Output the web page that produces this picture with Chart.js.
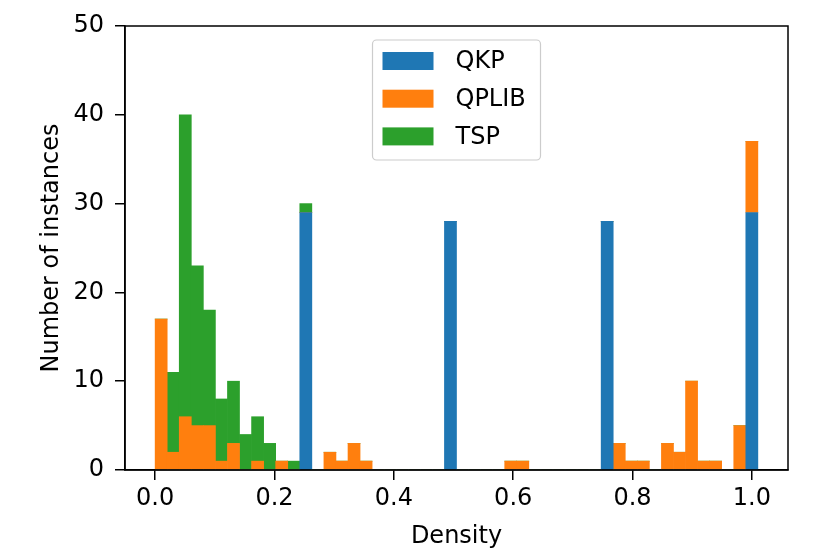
<!DOCTYPE html>
<html>
<head>
<meta charset="utf-8">
<script src="https://cdn.jsdelivr.net/npm/chart.js@4/dist/chart.umd.min.js"></script>
<style>
  html, body { margin: 0; padding: 0; background: #ffffff; }
  #wrap { width: 830px; height: 554px; }
</style>
</head>
<body>
<div id="wrap"><canvas id="densityChart"></canvas></div>
<script>
// histogram bins: 50 bins of equal width starting at 0
const binWidth = 0.0202;
const binCount = 50;

const seriesLabels = ["QKP", "QPLIB", "TSP"];
const seriesColors = ["#1f77b4", "#ff7f0e", "#2ca02c"];

const qkpCounts = [
  0, 0, 0, 0, 0, 0, 0, 0, 0, 0,
  0, 0, 29, 0, 0, 0, 0, 0, 0, 0,
  0, 0, 0, 0, 28, 0, 0, 0, 0, 0,
  0, 0, 0, 0, 0, 0, 0, 28, 0, 0,
  0, 0, 0, 0, 0, 0, 0, 0, 0, 29
];
const qplibCounts = [
  17, 2, 6, 5, 5, 1, 3, 0, 1, 0,
  1, 0, 0, 0, 2, 1, 3, 1, 0, 0,
  0, 0, 0, 0, 0, 0, 0, 0, 0, 1,
  1, 0, 0, 0, 0, 0, 0, 0, 3, 1,
  1, 0, 3, 2, 10, 1, 1, 0, 5, 8
];
const tspCounts = [
  0, 9, 34, 18, 13, 7, 7, 4, 5, 3,
  0, 1, 1, 0, 0, 0, 0, 0, 0, 0,
  0, 0, 0, 0, 0, 0, 0, 0, 0, 0,
  0, 0, 0, 0, 0, 0, 0, 0, 0, 0,
  0, 0, 0, 0, 0, 0, 0, 0, 0, 0
];

const xTickValues = [0.0, 0.2, 0.4, 0.6, 0.8, 1.0];
const yTickStep = 10;
const yMax = 50;

const binCenters = Array.from({ length: binCount }, (_, i) => (i + 0.5) * binWidth);
const dataRange = binCount * binWidth;

Chart.defaults.font.family = "'DejaVu Sans', sans-serif";
Chart.defaults.font.size = 24;
Chart.defaults.color = "#000000";

function toPoints(counts) {
  return counts.map((v, i) => ({ x: binCenters[i], y: v }));
}

// matplotlib style box around the axes
const frameBox = {
  id: "frameBox",
  afterDatasetsDraw(chart) {
    const { ctx, chartArea: a } = chart;
    ctx.save();
    ctx.strokeStyle = "#000000";
    ctx.lineWidth = 1.5;
    ctx.strokeRect(a.left, a.top, a.right - a.left, a.bottom - a.top);
    ctx.restore();
  }
};

// legend inside the plot, top centre
const insideLegend = {
  id: "insideLegend",
  afterDraw(chart) {
    const { ctx, chartArea: a } = chart;
    const sets = chart.data.datasets;
    const boxW = 168, rowH = 37.7, patchW = 51, patchH = 18;
    const boxH = 120;
    const left = (a.left + a.right) / 2 - boxW / 2;
    const top = a.top + 14;
    ctx.save();
    ctx.beginPath();
    ctx.roundRect(left, top, boxW, boxH, 4);
    ctx.fillStyle = "rgba(255,255,255,0.8)";
    ctx.fill();
    ctx.strokeStyle = "#cccccc";
    ctx.lineWidth = 1.2;
    ctx.stroke();
    ctx.font = "24px 'DejaVu Sans', sans-serif";
    ctx.textBaseline = "middle";
    sets.forEach((ds, i) => {
      const cy = top + 21 + i * rowH;
      ctx.fillStyle = ds.backgroundColor;
      ctx.fillRect(left + 10, cy - patchH / 2, patchW, patchH);
      ctx.fillStyle = "#000000";
      ctx.fillText(ds.label, left + 83, cy + 1);
    });
    ctx.restore();
  }
};

const ctx = document.getElementById("densityChart");

new Chart(ctx, {
  type: "bar",
  data: {
    datasets: [
      { label: seriesLabels[0], data: toPoints(qkpCounts), backgroundColor: seriesColors[0] },
      { label: seriesLabels[1], data: toPoints(qplibCounts), backgroundColor: seriesColors[1] },
      { label: seriesLabels[2], data: toPoints(tspCounts), backgroundColor: seriesColors[2] }
    ]
  },
  options: {
    responsive: true,
    maintainAspectRatio: false,
    animation: false,
    layout: { padding: { top: 26, right: 42, left: 0, bottom: 0 } },
    datasets: {
      bar: { categoryPercentage: 1.0, barPercentage: 1.0, borderWidth: 0 }
    },
    plugins: {
      legend: { display: false },
      tooltip: { enabled: false }
    },
    scales: {
      x: {
        type: "linear",
        stacked: true,
        offset: false,
        min: -0.05 * dataRange,
        max: dataRange * 1.05,
        afterBuildTicks(scale) {
          scale.ticks = xTickValues.map(v => ({ value: v }));
        },
        afterFit(scale) { scale.height = 84; },
        ticks: {
          padding: 4,
          maxRotation: 0,
          callback: v => Number(v).toFixed(1)
        },
        grid: {
          display: true,
          offset: false,
          drawOnChartArea: false,
          drawTicks: true,
          tickLength: 10,
          color: "#000000",
          lineWidth: 1.5
        },
        border: { display: true, color: "#000000", width: 1.5 },
        title: {
          display: true,
          text: "Density",
          padding: { top: 0, bottom: 2.5 }
        }
      },
      y: {
        stacked: true,
        min: 0,
        max: yMax,
        afterFit(scale) { scale.width = 125; },
        ticks: { stepSize: yTickStep, padding: 11 },
        grid: {
          display: true,
          drawOnChartArea: false,
          drawTicks: true,
          tickLength: 10,
          color: "#000000",
          lineWidth: 1.5
        },
        border: { display: true, color: "#000000", width: 1.5 },
        title: {
          display: true,
          text: "Number of instances",
          padding: { top: 37, bottom: 0 }
        }
      }
    }
  },
  plugins: [frameBox, insideLegend]
});
</script>
</body>
</html>
